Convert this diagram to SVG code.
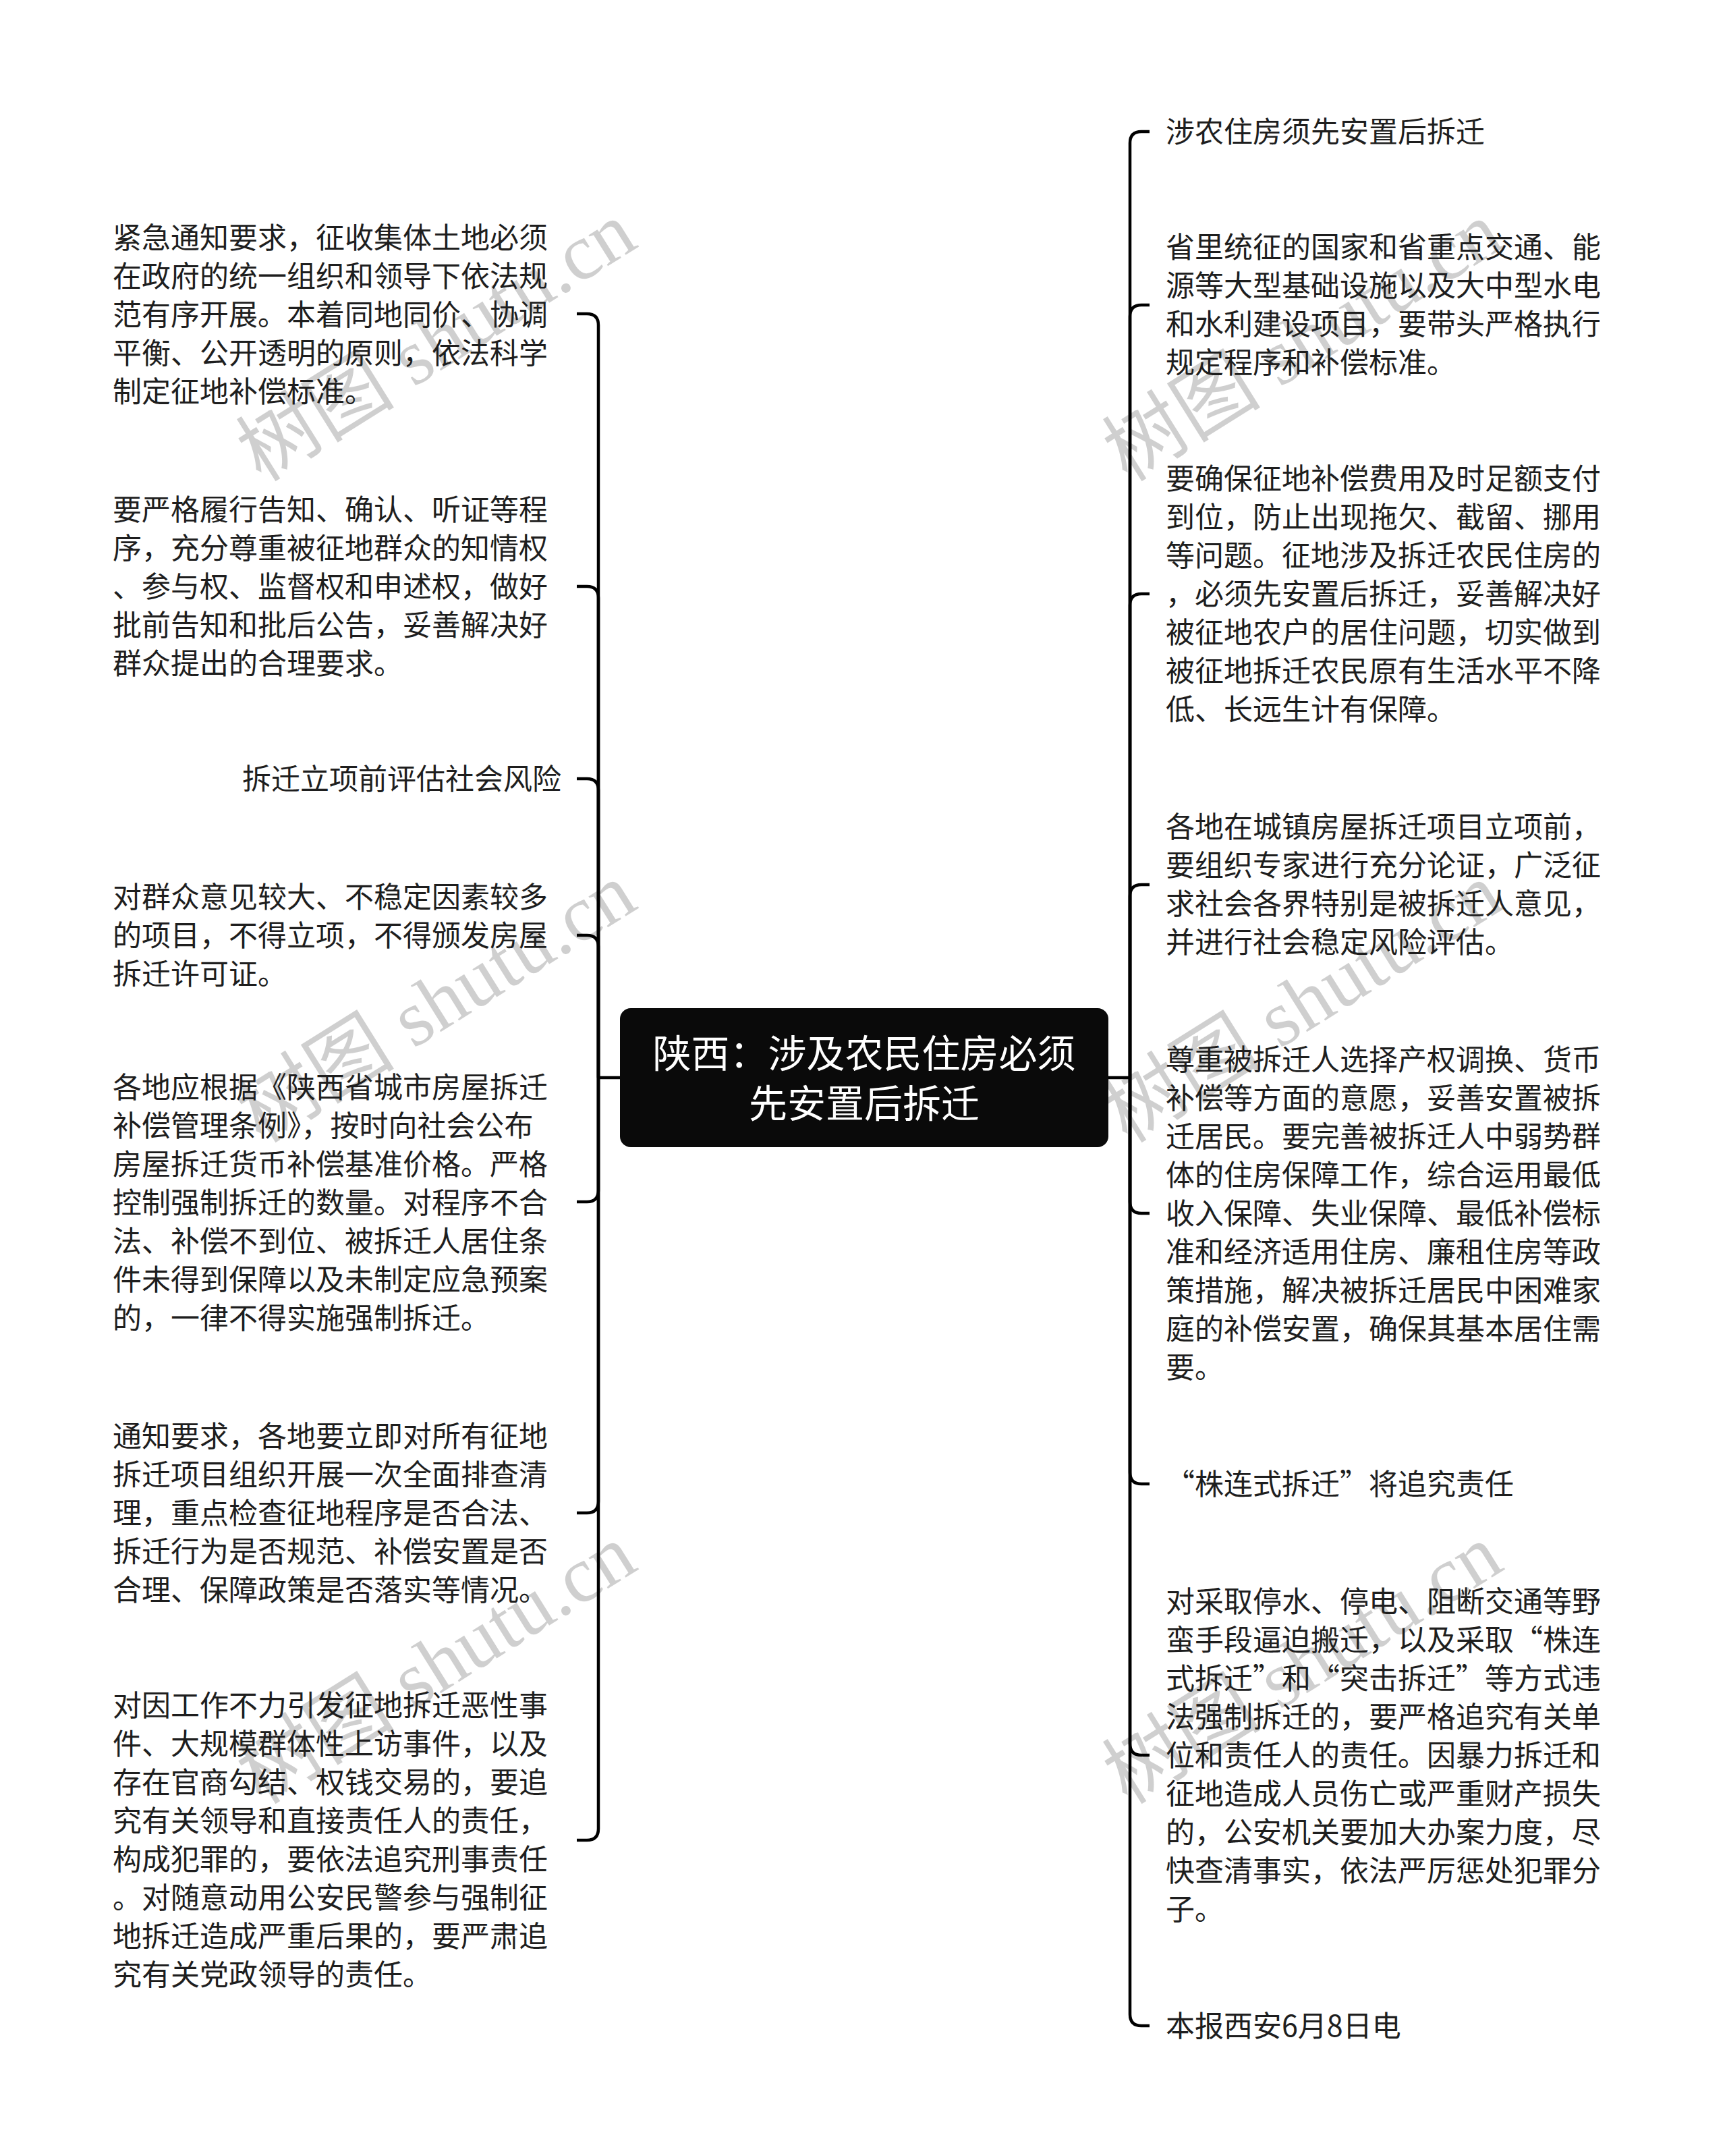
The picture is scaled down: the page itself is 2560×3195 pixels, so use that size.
<svg xmlns="http://www.w3.org/2000/svg" width="2560" height="3195" viewBox="0 0 2560 3195">
<style>
.bg{fill:#ffffff}
.wm{font-family:"Liberation Serif","Noto Sans CJK SC",serif;font-size:118px;fill:#000;fill-opacity:0.19}
.t{font-family:"Noto Sans CJK SC",sans-serif;font-size:43px;fill:#1e1e1e}
.root{font-family:"Noto Sans CJK SC",sans-serif;font-size:57px;fill:#ffffff;text-anchor:middle}
.c{fill:none;stroke:#000;stroke-width:4.5}
</style>
<rect class="bg" x="0" y="0" width="2560" height="3195"/>
<g id="watermarks">
<text class="wm" text-anchor="middle" transform="translate(668,540) rotate(-32)">树图 shutu.cn</text>
<text class="wm" text-anchor="middle" transform="translate(668,1520) rotate(-32)">树图 shutu.cn</text>
<text class="wm" text-anchor="middle" transform="translate(668,2500) rotate(-32)">树图 shutu.cn</text>
<text class="wm" text-anchor="middle" transform="translate(1952,540) rotate(-32)">树图 shutu.cn</text>
<text class="wm" text-anchor="middle" transform="translate(1952,1520) rotate(-32)">树图 shutu.cn</text>
<text class="wm" text-anchor="middle" transform="translate(1952,2500) rotate(-32)">树图 shutu.cn</text>
</g>
<g id="connectors">
<path class="c" d="M919,1597 H887"/>
<path class="c" d="M1643,1597 H1675"/>
<path class="c" d="M887,1597 V482 Q887,465 870,465 H855"/>
<path class="c" d="M887,1597 V886 Q887,869 870,869 H855"/>
<path class="c" d="M887,1597 V1171 Q887,1154 870,1154 H855"/>
<path class="c" d="M887,1597 V1403 Q887,1386 870,1386 H855"/>
<path class="c" d="M887,1597 V1764 Q887,1781 870,1781 H855"/>
<path class="c" d="M887,1597 V2225 Q887,2242 870,2242 H855"/>
<path class="c" d="M887,1597 V2710 Q887,2727 870,2727 H855"/>
<path class="c" d="M1675,1597 V212 Q1675,195 1692,195 H1704"/>
<path class="c" d="M1675,1597 V469 Q1675,452 1692,452 H1704"/>
<path class="c" d="M1675,1597 V897 Q1675,880 1692,880 H1704"/>
<path class="c" d="M1675,1597 V1328 Q1675,1311 1692,1311 H1704"/>
<path class="c" d="M1675,1597 V1781 Q1675,1798 1692,1798 H1704"/>
<path class="c" d="M1675,1597 V2182 Q1675,2199 1692,2199 H1704"/>
<path class="c" d="M1675,1597 V2584 Q1675,2601 1692,2601 H1704"/>
<path class="c" d="M1675,1597 V2985 Q1675,3002 1692,3002 H1704"/>
</g>
<g id="root">
<rect x="919" y="1494" width="724" height="206" rx="16" ry="16" fill="#0a0a0a"/>
<text class="root"><tspan x="1281" y="1582">陕西：涉及农民住房必须</tspan><tspan x="1281" y="1656">先安置后拆迁</tspan></text>
</g>
<g id="L1">
<text class="t"><tspan x="167" y="368">紧急通知要求，征收集体土地必须</tspan><tspan x="167" y="425">在政府的统一组织和领导下依法规</tspan><tspan x="167" y="482">范有序开展。本着同地同价、协调</tspan><tspan x="167" y="539">平衡、公开透明的原则，依法科学</tspan><tspan x="167" y="596">制定征地补偿标准。</tspan></text>
</g>
<g id="L2">
<text class="t"><tspan x="167" y="771">要严格履行告知、确认、听证等程</tspan><tspan x="167" y="828">序，充分尊重被征地群众的知情权</tspan><tspan x="167" y="885">、参与权、监督权和申述权，做好</tspan><tspan x="167" y="942">批前告知和批后公告，妥善解决好</tspan><tspan x="167" y="999">群众提出的合理要求。</tspan></text>
</g>
<g id="L3">
<text class="t" text-anchor="end" x="832" y="1170">拆迁立项前评估社会风险</text>
</g>
<g id="L4">
<text class="t"><tspan x="167" y="1345">对群众意见较大、不稳定因素较多</tspan><tspan x="167" y="1402">的项目，不得立项，不得颁发房屋</tspan><tspan x="167" y="1459">拆迁许可证。</tspan></text>
</g>
<g id="L5">
<text class="t"><tspan x="167" y="1627">各地应根据《陕西省城市房屋拆迁</tspan><tspan x="167" y="1684">补偿管理条例》，按时向社会公布</tspan><tspan x="167" y="1741">房屋拆迁货币补偿基准价格。严格</tspan><tspan x="167" y="1798">控制强制拆迁的数量。对程序不合</tspan><tspan x="167" y="1855">法、补偿不到位、被拆迁人居住条</tspan><tspan x="167" y="1912">件未得到保障以及未制定应急预案</tspan><tspan x="167" y="1969">的，一律不得实施强制拆迁。</tspan></text>
</g>
<g id="L6">
<text class="t"><tspan x="167" y="2144">通知要求，各地要立即对所有征地</tspan><tspan x="167" y="2201">拆迁项目组织开展一次全面排查清</tspan><tspan x="167" y="2258">理，重点检查征地程序是否合法、</tspan><tspan x="167" y="2315">拆迁行为是否规范、补偿安置是否</tspan><tspan x="167" y="2372">合理、保障政策是否落实等情况。</tspan></text>
</g>
<g id="L7">
<text class="t"><tspan x="167" y="2543">对因工作不力引发征地拆迁恶性事</tspan><tspan x="167" y="2600">件、大规模群体性上访事件，以及</tspan><tspan x="167" y="2657">存在官商勾结、权钱交易的，要追</tspan><tspan x="167" y="2714">究有关领导和直接责任人的责任，</tspan><tspan x="167" y="2771">构成犯罪的，要依法追究刑事责任</tspan><tspan x="167" y="2828">。对随意动用公安民警参与强制征</tspan><tspan x="167" y="2885">地拆迁造成严重后果的，要严肃追</tspan><tspan x="167" y="2942">究有关党政领导的责任。</tspan></text>
</g>
<g id="R1">
<text class="t" x="1728" y="211">涉农住房须先安置后拆迁</text>
</g>
<g id="R2">
<text class="t"><tspan x="1728" y="382">省里统征的国家和省重点交通、能</tspan><tspan x="1728" y="439">源等大型基础设施以及大中型水电</tspan><tspan x="1728" y="496">和水利建设项目，要带头严格执行</tspan><tspan x="1728" y="553">规定程序和补偿标准。</tspan></text>
</g>
<g id="R3">
<text class="t"><tspan x="1728" y="725">要确保征地补偿费用及时足额支付</tspan><tspan x="1728" y="782">到位，防止出现拖欠、截留、挪用</tspan><tspan x="1728" y="839">等问题。征地涉及拆迁农民住房的</tspan><tspan x="1728" y="896">，必须先安置后拆迁，妥善解决好</tspan><tspan x="1728" y="953">被征地农户的居住问题，切实做到</tspan><tspan x="1728" y="1010">被征地拆迁农民原有生活水平不降</tspan><tspan x="1728" y="1067">低、长远生计有保障。</tspan></text>
</g>
<g id="R4">
<text class="t"><tspan x="1728" y="1241">各地在城镇房屋拆迁项目立项前，</tspan><tspan x="1728" y="1298">要组织专家进行充分论证，广泛征</tspan><tspan x="1728" y="1355">求社会各界特别是被拆迁人意见，</tspan><tspan x="1728" y="1412">并进行社会稳定风险评估。</tspan></text>
</g>
<g id="R5">
<text class="t"><tspan x="1728" y="1586">尊重被拆迁人选择产权调换、货币</tspan><tspan x="1728" y="1643">补偿等方面的意愿，妥善安置被拆</tspan><tspan x="1728" y="1700">迁居民。要完善被拆迁人中弱势群</tspan><tspan x="1728" y="1757">体的住房保障工作，综合运用最低</tspan><tspan x="1728" y="1814">收入保障、失业保障、最低补偿标</tspan><tspan x="1728" y="1871">准和经济适用住房、廉租住房等政</tspan><tspan x="1728" y="1928">策措施，解决被拆迁居民中困难家</tspan><tspan x="1728" y="1985">庭的补偿安置，确保其基本居住需</tspan><tspan x="1728" y="2042">要。</tspan></text>
</g>
<g id="R6">
<text class="t" x="1728" y="2215">“株连式拆迁”将追究责任</text>
</g>
<g id="R7">
<text class="t"><tspan x="1728" y="2389">对采取停水、停电、阻断交通等野</tspan><tspan x="1728" y="2446">蛮手段逼迫搬迁，以及采取“株连</tspan><tspan x="1728" y="2503">式拆迁”和“突击拆迁”等方式违</tspan><tspan x="1728" y="2560">法强制拆迁的，要严格追究有关单</tspan><tspan x="1728" y="2617">位和责任人的责任。因暴力拆迁和</tspan><tspan x="1728" y="2674">征地造成人员伤亡或严重财产损失</tspan><tspan x="1728" y="2731">的，公安机关要加大办案力度，尽</tspan><tspan x="1728" y="2788">快查清事实，依法严厉惩处犯罪分</tspan><tspan x="1728" y="2845">子。</tspan></text>
</g>
<g id="R8">
<text class="t" x="1728" y="3018">本报西安6月8日电</text>
</g>
</svg>
